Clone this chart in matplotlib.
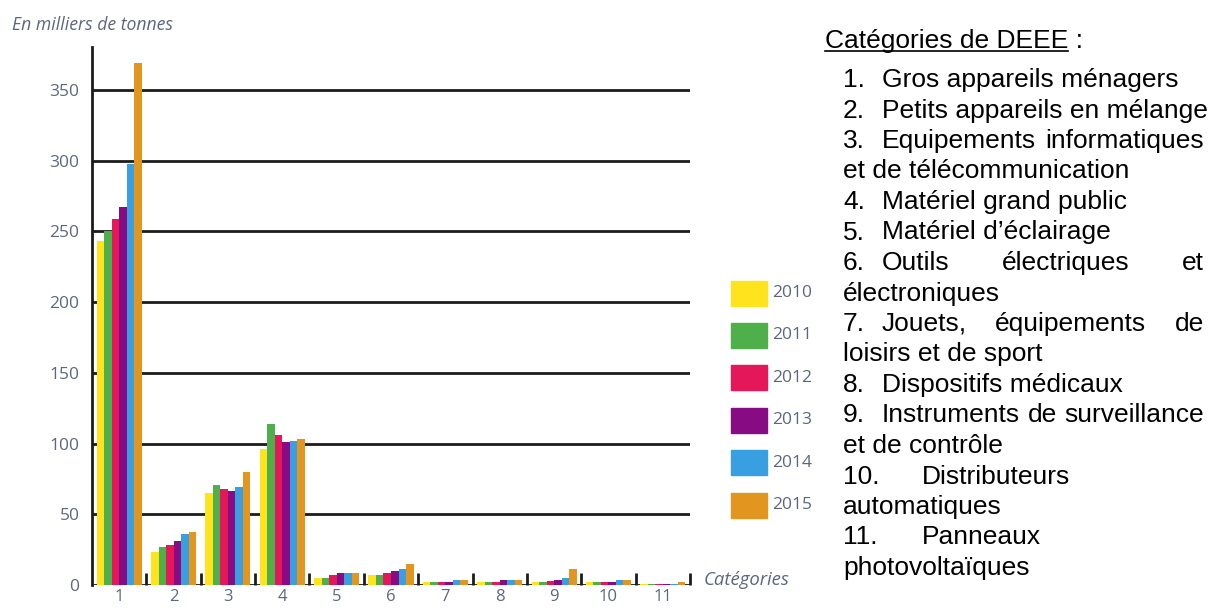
import numpy as np
import matplotlib.pyplot as plt
from matplotlib.patches import Rectangle

# DEEE tonnages per category, thousands of tonnes
categories = ["1", "2", "3", "4", "5", "6", "7", "8", "9", "10", "11"]
years = ["2010", "2011", "2012", "2013", "2014", "2015"]
values = {
    "2010": [243, 23, 65, 96, 5, 7, 2, 2, 2, 2, 0.5],
    "2011": [250, 27, 71, 114, 5, 7, 2, 2, 2, 2, 0.5],
    "2012": [259, 28.5, 68, 106, 7, 8.5, 2, 2, 2.5, 2, 0.5],
    "2013": [267, 31, 66.5, 101, 8.5, 10, 2, 3.5, 3.5, 2, 0.5],
    "2014": [298, 36, 69.5, 101.5, 8.5, 11.5, 3.5, 3.5, 5, 3.5, 0.5],
    "2015": [369, 37.5, 80, 103.5, 8.5, 15, 3.5, 3.5, 11.5, 3.5, 2],
}
colors = ["#ffe31c", "#4fb04b", "#e3175a", "#870c84", "#3a9fe0", "#e3961f"]

heading = "Catégories de DEEE"
items = [
    ("1.", "Gros appareils ménagers", False),
    ("2.", "Petits appareils en mélange", False),
    ("3.", "Equipements informatiques", True),
    (None, "et de télécommunication", False),
    ("4.", "Matériel grand public", False),
    ("5.", "Matériel d’éclairage", False),
    ("6.", "Outils électriques et", True),
    (None, "électroniques", False),
    ("7.", "Jouets, équipements de", True),
    (None, "loisirs et de sport", False),
    ("8.", "Dispositifs médicaux", False),
    ("9.", "Instruments de surveillance", True),
    (None, "et de contrôle", False),
    ("10.", "Distributeurs", False),
    (None, "automatiques", False),
    ("11.", "Panneaux", False),
    (None, "photovoltaïques", False),
]

W, H = 1209, 610
LABEL = "#5c6680"
fig = plt.figure(figsize=(W / 100, H / 100), dpi=100)


def fx(px):
    return px / W


def fy(py):
    return 1 - py / H


ax = fig.add_axes([fx(92), fy(585), (690 - 92) / W, (585 - 47) / H])

x = np.arange(1, len(categories) + 1)
bw = 0.138
for i, year in enumerate(years):
    ax.bar(x + (i - 2.5) * bw, values[year], width=bw, color=colors[i],
           zorder=3, linewidth=0)

ax.set_xlim(0.5, 11.5)
ax.set_ylim(0, 380.4)
ax.set_yticks(range(0, 351, 50))
ax.yaxis.grid(True, color="#1c1c1c", linewidth=2)
ax.set_axisbelow(True)
ax.tick_params(axis="y", length=0, pad=9, labelcolor=LABEL, labelsize=12.5)
for lab in ax.get_yticklabels():
    lab.set_family("Open Sans")

# boundary ticks between the groups, category numbers underneath
ax.set_xticks(np.arange(1.5, 12, 1))
ax.set_xticklabels([])
ax.set_xticks(x, minor=True)
ax.set_xticklabels(categories, minor=True, family="Open Sans")
ax.tick_params(axis="x", which="major", direction="in", length=9, width=2,
               color="#1c1c1c")
ax.tick_params(axis="x", which="minor", length=0, pad=3, labelcolor=LABEL,
               labelsize=12)

for side in ("top", "right", "bottom"):
    ax.spines[side].set_visible(False)
ax.spines["left"].set_linewidth(2)
ax.spines["left"].set_color("#1c1c1c")

fig.text(fx(12), fy(25), "En milliers de tonnes", style="italic",
         family="Open Sans", color=LABEL, fontsize=12.7, va="center")
fig.text(fx(704), fy(580), "Catégories", style="italic", family="Open Sans",
         color=LABEL, fontsize=13.3, va="center")

# legend
for i, year in enumerate(years):
    yc = 293 + i * 42.4
    fig.add_artist(Rectangle((fx(731), fy(yc + 12.5)), 36 / W, 25 / H,
                             transform=fig.transFigure, color=colors[i]))
    fig.text(fx(772), fy(yc), year, family="Open Sans", color=LABEL,
             fontsize=12.5, va="center")

# category list on the right
font = dict(family="Liberation Sans", fontsize=19, color="black",
            va="baseline")
fig.text(fx(825), fy(48), heading + " :", **font)
r = fig.canvas.get_renderer()
hw = fig.text(0, 0, heading, **font).get_window_extent(r).width
fig.texts[-1].remove()
fig.add_artist(plt.Line2D([fx(825), fx(825 + hw)], [fy(51), fy(51)],
                          transform=fig.transFigure, color="black", lw=1.2))

right = 1204
for k, (num, text, justify) in enumerate(items):
    base = 87 + k * 30.5
    if num is None:
        fig.text(fx(843), fy(base), text, **font)
        continue
    fig.text(fx(843), fy(base), num, **font)
    x0 = 922 if len(num) > 2 else 882
    if not justify:
        fig.text(fx(x0), fy(base), text, **font)
        continue
    words = text.split()
    arts = [fig.text(fx(x0), fy(base), w, **font) for w in words]
    widths = [a.get_window_extent(r).width for a in arts]
    gap = (right - x0 - sum(widths)) / (len(words) - 1)
    pos = x0
    for a, w in zip(arts, widths):
        a.set_x(fx(pos))
        pos += w + gap

fig.savefig("out.png", dpi=100)
